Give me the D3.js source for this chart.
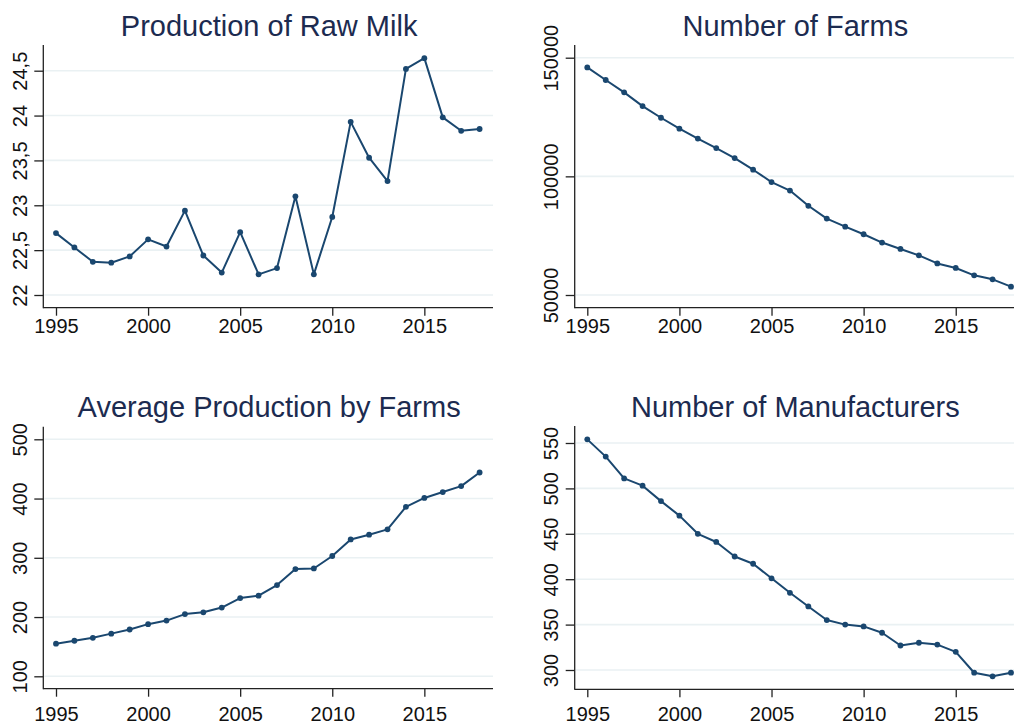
<!DOCTYPE html>
<html>
<head>
<meta charset="utf-8">
<script src="https://cdn.jsdelivr.net/npm/d3@7"></script>
<style>
  html, body { margin: 0; padding: 0; background: #ffffff; }
  svg { display: block; }
  text { font-family: "Liberation Sans", Arial, sans-serif; }
</style>
</head>
<body>
<svg id="chart" width="1014" height="727"></svg>
<script>
// ---------- data ----------
const years = [1995, 1996, 1997, 1998, 1999, 2000, 2001, 2002, 2003, 2004, 2005, 2006,
               2007, 2008, 2009, 2010, 2011, 2012, 2013, 2014, 2015, 2016, 2017, 2018];
const xTicks = [1995, 2000, 2005, 2010, 2015];

const rawMilk = [22.69, 22.53, 22.37, 22.36, 22.43, 22.62, 22.54, 22.94, 22.44, 22.25,
                 22.70, 22.23, 22.30, 23.10, 22.23, 22.87, 23.93, 23.53, 23.27, 24.52,
                 24.64, 23.98, 23.83, 23.85];
const rawMilkTicks = [22, 22.5, 23, 23.5, 24, 24.5];
const rawMilkTickLabels = ["22", "22,5", "23", "23,5", "24", "24,5"];

const farms = [145900, 140600, 135400, 129600, 124700, 120100, 115900, 111900, 107700,
               102800, 97600, 94000, 87600, 82200, 78800, 75600, 72100, 69400, 66700,
               63300, 61400, 58300, 56600, 53500];
const farmsTicks = [50000, 100000, 150000];
const farmsTickLabels = ["50000", "100000", "150000"];

const avgProd = [155, 160, 165, 172, 179, 188, 194, 205, 208, 216, 232, 236, 254, 281,
                 282, 303, 331, 339, 348, 386, 401, 411, 421, 444];
const avgProdTicks = [100, 200, 300, 400, 500];
const avgProdTickLabels = ["100", "200", "300", "400", "500"];

const manufacturers = [554, 535, 511, 503, 486, 470, 450, 441, 425, 417, 401, 385, 370,
                       355, 350, 348, 341, 327, 330, 328, 320, 297, 293, 297];
const manufTicks = [300, 350, 400, 450, 500, 550];
const manufTickLabels = ["300", "350", "400", "450", "500", "550"];

const titles = ["Production of Raw Milk", "Number of Farms",
                "Average Production by Farms", "Number of Manufacturers"];

// ---------- layout ----------
const svg = d3.select("#chart");
const lineColor = "#1a476f";
const titleColor = "#1c2b50";
const gridColor = "#eaf1f3";

const panels = [
  { title: titles[0], values: rawMilk, ticks: rawMilkTicks, labels: rawMilkTickLabels,
    left: 43.3, right: 493, top: 45, bottom: 307.7, x0: 56, x1: 479.6,
    yTick0: 295, yTick1: 70.7, titleY: 36, xLabelY: 333.5 },
  { title: titles[1], values: farms, ticks: farmsTicks, labels: farmsTickLabels,
    left: 574.7, right: 1020, top: 45, bottom: 307.7, x0: 587.3, x1: 1011,
    yTick0: 295, yTick1: 57.7, titleY: 36, xLabelY: 333.5 },
  { title: titles[2], values: avgProd, ticks: avgProdTicks, labels: avgProdTickLabels,
    left: 43.3, right: 493, top: 426.7, bottom: 688.7, x0: 56, x1: 479.6,
    yTick0: 676.3, yTick1: 439.3, titleY: 416.7, xLabelY: 721.5 },
  { title: titles[3], values: manufacturers, ticks: manufTicks, labels: manufTickLabels,
    left: 574.7, right: 1020, top: 426, bottom: 689.3, x0: 587.3, x1: 1011,
    yTick0: 670, yTick1: 443, titleY: 416.7, xLabelY: 721.5 }
];

panels.forEach(p => {
  const g = svg.append("g");
  const x = d3.scaleLinear().domain([years[0], years[years.length - 1]]).range([p.x0, p.x1]);
  const y = d3.scaleLinear()
    .domain([p.ticks[0], p.ticks[p.ticks.length - 1]])
    .range([p.yTick0, p.yTick1]);

  // gridlines
  g.selectAll("line.grid").data(p.ticks).enter().append("line")
    .attr("x1", p.left + 1).attr("x2", p.right)
    .attr("y1", d => y(d)).attr("y2", d => y(d))
    .attr("stroke", gridColor).attr("stroke-width", 1.6);

  // y axis
  const yAxis = d3.axisLeft(y).tickValues(p.ticks)
    .tickFormat((d, i) => p.labels[i]).tickSize(9).tickSizeOuter(0);
  const ya = g.append("g").attr("transform", `translate(${p.left},0)`).call(yAxis);
  ya.select(".domain").remove();
  ya.append("line").attr("x1", 0).attr("x2", 0).attr("y1", p.top).attr("y2", p.bottom + 0.5)
    .attr("stroke", "#222").attr("stroke-width", 1.3);
  ya.selectAll(".tick line").attr("stroke", "#222").attr("stroke-width", 1.3);
  ya.selectAll(".tick text")
    .attr("x", null).attr("dy", null)
    .attr("transform", "translate(-16.5,0) rotate(-90)")
    .attr("text-anchor", "middle")
    .attr("fill", "#111").attr("font-size", 20);

  // x axis
  const xAxis = d3.axisBottom(x).tickValues(xTicks).tickFormat(d3.format("d"))
    .tickSize(8).tickSizeOuter(0);
  const xa = g.append("g").attr("transform", `translate(0,${p.bottom})`).call(xAxis);
  xa.select(".domain").remove();
  xa.append("line").attr("x1", p.left).attr("x2", p.right).attr("y1", 0).attr("y2", 0)
    .attr("stroke", "#222").attr("stroke-width", 1.3);
  xa.selectAll(".tick line").attr("stroke", "#222").attr("stroke-width", 1.3);
  xa.selectAll(".tick text")
    .attr("y", p.xLabelY - p.bottom).attr("dy", null)
    .attr("fill", "#111").attr("font-size", 20);

  // line
  const line = d3.line().x((d, i) => x(years[i])).y(d => y(d));
  g.append("path").datum(p.values)
    .attr("d", line).attr("fill", "none")
    .attr("stroke", lineColor).attr("stroke-width", 2)
    .attr("stroke-linejoin", "round");

  g.selectAll("circle").data(p.values).enter().append("circle")
    .attr("cx", (d, i) => x(years[i])).attr("cy", d => y(d))
    .attr("r", 2.9).attr("fill", lineColor);

  // title
  g.append("text")
    .attr("x", (p.left + Math.min(p.right, 1014)) / 2 + 1)
    .attr("y", p.titleY)
    .attr("text-anchor", "middle")
    .attr("font-size", 29)
    .attr("fill", titleColor)
    .text(p.title);
});
</script>
</body>
</html>
